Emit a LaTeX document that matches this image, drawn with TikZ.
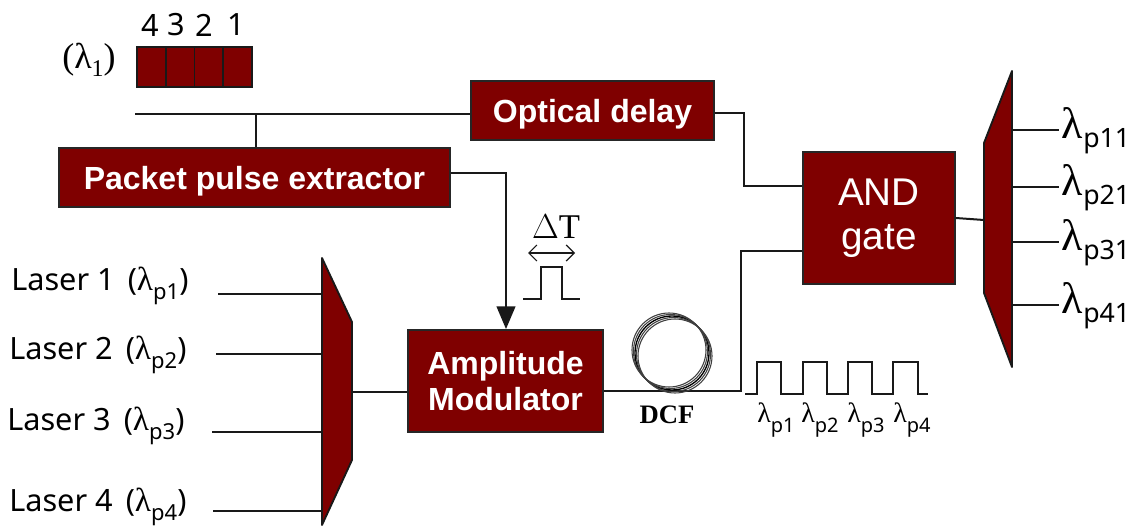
\documentclass[tikz,border=0pt]{standalone}
\usepackage{fix-cm}
\usepackage{amsmath}
\usepackage{fontspec}
\usepackage{xcolor}
\usepackage{tikz}
\usetikzlibrary{arrows.meta,positioning}
\setmainfont{Liberation Sans}
\newfontfamily\labelfont{Noto Sans}
\newfontfamily\seriffont{Liberation Serif}
\definecolor{maroon}{HTML}{7F0000}
\newcommand{\fsz}[1]{\fontsize{#1}{#1}\selectfont}
\newcommand{\lamsub}[3]{{\seriffont\fsz{#1}λ}\raisebox{-.3em}{\labelfont\fsz{#2}#3}}

\begin{document}
\begin{tikzpicture}[
  x=0.75pt, y=-0.75pt,
  wire/.style={line width=1.5pt, black!90},
  box/.style={draw=black!85, line width=1.4pt, fill=maroon, text=white, align=center, inner sep=0pt, font=\fsz{24}\bfseries},
  cell/.style={draw=black!90, line width=1.4pt, fill=maroon, minimum width=21.56pt, minimum height=30pt, inner sep=0pt, outer sep=0pt},
  mux/.style={draw=black!90, line width=1.4pt, fill=maroon, line join=round},
  lbl/.style={inner sep=0pt, font=\labelfont\fsz{23}},
  arr/.style={wire, -{Triangle[length=17pt,width=14pt]}}
]
\useasboundingbox (0,0) rectangle (1136,528);

% packet
\node[cell, anchor=west] (cell4) at (137,67) {};
\node[cell, right=0pt of cell4] (cell3) {};
\node[cell, right=0pt of cell3] (cell2) {};
\node[cell, right=0pt of cell2] (cell1) {};
\node[lbl] (num4) at (150,25) {4};
\node[lbl] (num3) at (176,25) {3};
\node[lbl] (num2) at (204,25) {2};
\node[lbl] (num1) at (236,25) {1};
\node[inner sep=0pt, font=\seriffont\fsz{27}] (plambda) at (89,60) {(λ\raisebox{-.2em}{\fsz{18}1})};

% boxes
\node[box, minimum width=293.25pt, minimum height=44.25pt, text depth=0pt] (extractor) at (254.5,177.5) {Packet pulse extractor};
\node[box, minimum width=182.25pt, minimum height=44.25pt, text depth=0pt] (delay) at (592.5,110.5) {Optical delay};
\node[box, minimum width=146.25pt, minimum height=76.5pt] (amp) at (505.5,381) {Amplitude\\[3pt]Modulator};
\node[box, minimum width=114pt, minimum height=99pt, font=\fsz{29}] (andgate) at (879,218) {AND\\[4pt]gate};

% multiplexers
\draw[mux] (322,258) -- (352,322) -- (352,460) -- (322,525) -- cycle;
\draw[mux] (1012,71) -- (984,143) -- (984,293) -- (1012,367) -- cycle;
\coordinate (muxout) at (352,392);
\coordinate (demuxin) at (984,220);

% lasers
\foreach \n/\tx/\ty/\sx/\sy in {1/11/286/218/294, 2/9/355/216/354, 3/7/426/212/432, 4/9/507/213/511} {
  \node[lbl, anchor=west] (laser\n) at (\tx,\ty) {Laser \n\ \,({\lamsub{25}{16.5}{p\n}})};
  \coordinate (start\n) at (\sx,\sy);
  \coordinate (muxin\n) at (322,\sy);
  \draw[wire] (start\n) -- (muxin\n);
}

% outputs
\foreach \n/\y in {1/130, 2/187, 3/242, 4/305} {
  \coordinate (demuxout\n) at (1012,\y);
  \node[lbl, anchor=west, inner sep=2pt] (out\n) at (1059,\y+1) {\lamsub{33}{20}{p\n1}};
  \draw[wire] (demuxout\n) -- (out\n.west |- demuxout\n);
}

% wires
\coordinate (in) at (135,114);
\coordinate (tap) at (256,114);
\coordinate (extbend) at (506,173);
\coordinate (delaybend) at (744,113);
\coordinate (upperin) at (744,186);
\coordinate (lowerin) at (741,251);
\coordinate (dcfout) at (741,391);
\draw[wire] (in) -- (in -| delay.west);
\draw[wire] (tap) -- (tap |- extractor.north);
\draw[arr] (extractor.east |- extbend) -- (extbend) -- (extbend |- amp.north);
\draw[wire] (delay.east |- delaybend) -- (delaybend) -- (upperin) -- (upperin -| andgate.west);
\draw[wire] (amp.east |- dcfout) -- (dcfout) -- (lowerin) -- (lowerin -| andgate.west);
\draw[wire] (muxout) -- (muxout -| amp.west);
\draw[wire] (andgate.east) -- (demuxin);

% dcf coil
\node[inner sep=0pt, minimum size=55.5pt, circle, draw=black, line width=1pt] (coil) at (672,353) {};
\foreach \dx/\dy in {-3/-3, -1.5/-1.5, 1.5/1.5, 3/3}
  \draw[black!75, line width=.8pt] ([xshift=\dx*0.75pt, yshift=-\dy*0.75pt]coil.center) circle[radius=37];
\node[inner sep=0pt, font=\seriffont\bfseries\fsz{20}] (dcf) at (667,415) {DCF};

% single pulse
\node[inner sep=0pt, font=\seriffont\fsz{26}] (deltat) at (556,227) {$\Delta$T};
\coordinate (widthl) at (528,253);
\coordinate (widthr) at (575,253);
\draw[line width=.9pt, black!90, {Straight Barb[length=6pt]}-{Straight Barb[length=6pt]}] (widthl) -- (widthr);
\draw[wire, line width=1.3pt] (523,299) -- (541,299) -- (541,267) -- (562,267) -- (562,299) -- (580,299);

% pulse train
\draw[wire, line width=1.3pt] (745,394) -- (757,394) -- (757,362) -- (781,362) -- (781,394) -- (803,394) -- (803,362) -- (827,362) -- (827,394) -- (848,394) -- (848,362) -- (872,362) -- (872,394) -- (893,394) -- (893,362) -- (918,362) -- (918,394) -- (928,394);
\foreach \n/\x in {1/776, 2/820, 3/866, 4/912}
  \node[lbl] (train\n) at (\x,420) {\lamsub{21}{15}{p\n}};
\end{tikzpicture}
\end{document}
